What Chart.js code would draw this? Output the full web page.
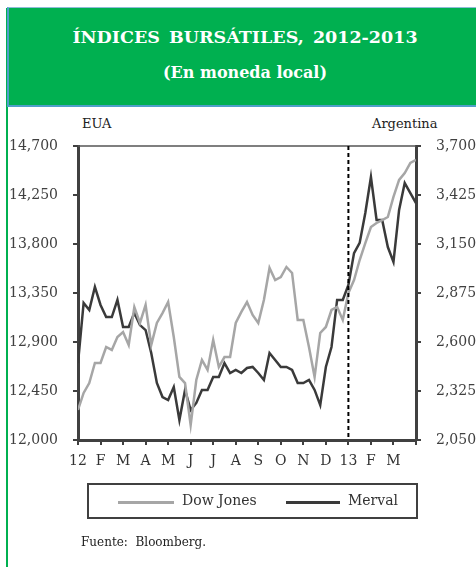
<!DOCTYPE html>
<html>
<head>
<meta charset="utf-8">
<script src="https://cdn.jsdelivr.net/npm/chart.js@4.4.0/dist/chart.umd.min.js"></script>
<style>
body { margin: 0; background: #fff; font-family: "DejaVu Serif", "Liberation Serif", "Times New Roman", serif; }
#wrap { position: relative; width: 476px; height: 567px; overflow: hidden; }
#side { position: absolute; left: 6px; top: 8px; width: 2px; height: 559px; background: #00B050; }
#header { position: absolute; left: 7px; top: 7px; width: 469px; height: 97px; background: #00B050;
  border-top: 1px solid #8FBCD8; border-left: 2px solid #4F9FC9; border-bottom: 2px solid #4F9FC9; }
.ttl { position: absolute; left: 0; width: 490px; text-align: center; color: #fff; font-weight: bold; }
#t1 { top: 24px; font-size: 17.5px; line-height: 26px; word-spacing: 3px; }
#t2 { top: 62px; font-size: 16px; line-height: 22px; }
.lab { position: absolute; color: #222; font-size: 13px; line-height: 16px; }
#chart { position: absolute; left: 0; top: 0; }
#legend { position: absolute; left: 87px; top: 483px; width: 327px; height: 32px; border: 2px solid #404040; }
.sw { position: absolute; height: 3px; }
.lt { position: absolute; top: 6px; font-size: 14px; line-height: 18px; color: #333; }
#src { position: absolute; left: 81px; top: 534px; font-size: 12px; line-height: 16px; color: #222; }
</style>
</head>
<body>
<div id="wrap">
  <div id="side"></div>
  <div id="header"></div>
  <div class="ttl" id="t1">ÍNDICES BURSÁTILES, 2012-2013</div>
  <div class="ttl" id="t2">(En moneda local)</div>
  <div class="lab" style="left:82px; top:116px;">EUA</div>
  <div class="lab" style="left:372px; top:116px;">Argentina</div>
  <canvas id="chart" width="476" height="567"></canvas>
  <div id="legend">
    <div class="sw" style="left:29px; top:16px; width:56px; background:#A6A6A6;"></div>
    <div class="lt" style="left:93px;">Dow Jones</div>
    <div class="sw" style="left:197px; top:16px; width:54px; background:#3A3A3A;"></div>
    <div class="lt" style="left:259px;">Merval</div>
  </div>
  <div id="src">Fuente:&nbsp; Bloomberg.</div>
</div>
<script>
// meses desde enero 2012 (aprox. semanal)
const months = Array.from({ length: 61 }, (_, i) => i / 4);
const monthLabels = ['12', 'F', 'M', 'A', 'M', 'J', 'J', 'A', 'S', 'O', 'N', 'D', '13', 'F', 'M', ''];

const dowJones = [
  12276, 12432, 12523, 12707, 12707, 12854, 12827, 12946, 12992, 12872,
  13221, 13075, 13240, 12872, 13075, 13166, 13267, 12946, 12579, 12523,
  12138, 12551, 12735, 12643, 12918, 12670, 12762, 12762, 13075, 13176,
  13267, 13148, 13075, 13286, 13580, 13469, 13497, 13589, 13534, 13102,
  13102, 12854, 12579, 12983, 13038, 13194, 13221, 13102, 13350, 13469,
  13653, 13809, 13956, 13993, 14020, 14048, 14232, 14388, 14452, 14544, 14572
];
const merval = [
  2482, 2819, 2780, 2909, 2808, 2740, 2740, 2836, 2684, 2684,
  2763, 2695, 2667, 2538, 2370, 2291, 2274, 2347, 2162, 2331,
  2218, 2258, 2331, 2331, 2404, 2404, 2482, 2426, 2443, 2426,
  2454, 2460, 2426, 2387, 2538, 2499, 2460, 2460, 2443, 2370,
  2370, 2387, 2331, 2246, 2460, 2572, 2836, 2836, 2920, 3099,
  3156, 3324, 3526, 3285, 3285, 3133, 3049, 3341, 3492, 3436, 3380
];

const axisColor = '#404040';
const serif = '"DejaVu Serif", "Liberation Serif", "Times New Roman", serif';

const extras = {
  id: 'extras',
  afterDatasetsDraw(chart) {
    const { ctx, chartArea: a, scales } = chart;
    ctx.save();
    // borde superior
    ctx.strokeStyle = '#555';
    ctx.lineWidth = 1.5;
    ctx.beginPath();
    ctx.moveTo(a.left, a.top);
    ctx.lineTo(a.right, a.top);
    ctx.stroke();
    // linea punteada inicio 2013
    const x = scales.x.getPixelForValue(12);
    ctx.strokeStyle = '#000';
    ctx.lineWidth = 2;
    ctx.setLineDash([4, 3]);
    ctx.beginPath();
    ctx.moveTo(x, a.top);
    ctx.lineTo(x, a.bottom);
    ctx.stroke();
    ctx.restore();
  }
};

new Chart(document.getElementById('chart'), {
  type: 'line',
  data: {
    datasets: [
      {
        label: 'Dow Jones',
        data: months.map((m, i) => ({ x: m, y: dowJones[i] })),
        borderColor: '#A6A6A6',
        borderWidth: 2.5,
        pointRadius: 0,
        yAxisID: 'y'
      },
      {
        label: 'Merval',
        data: months.map((m, i) => ({ x: m, y: merval[i] })),
        borderColor: '#3A3A3A',
        borderWidth: 2.5,
        pointRadius: 0,
        yAxisID: 'y1'
      }
    ]
  },
  options: {
    responsive: false,
    animation: false,
    layout: { padding: { top: 146, bottom: 87, left: 0, right: 0 } },
    plugins: { legend: { display: false }, tooltip: { enabled: false } },
    scales: {
      x: {
        type: 'linear',
        min: 0,
        max: 15,
        afterFit: s => { s.height = 40; },
        afterBuildTicks: s => { s.ticks = monthLabels.map((_, i) => ({ value: i })); },
        grid: { drawOnChartArea: false, tickLength: 5, color: axisColor, lineWidth: 2 },
        border: { color: axisColor, width: 3 },
        ticks: {
          autoSkip: false,
          maxRotation: 0,
          padding: 8,
          color: '#333',
          font: { family: serif, size: 14 },
          callback: v => monthLabels[v]
        }
      },
      y: {
        position: 'left',
        min: 12000,
        max: 14700,
        afterFit: s => { s.width = 78; },
        grid: { drawOnChartArea: false, tickLength: 5, color: axisColor, lineWidth: 2 },
        border: { color: axisColor, width: 3 },
        ticks: {
          stepSize: 450,
          padding: 15,
          color: '#404040',
          font: { family: serif, size: 14 },
          callback: v => v.toLocaleString('en-US')
        }
      },
      y1: {
        position: 'right',
        min: 2050,
        max: 3700,
        afterFit: s => { s.width = 60; },
        grid: { drawOnChartArea: false, tickLength: 5, color: axisColor, lineWidth: 2 },
        border: { color: axisColor, width: 3 },
        ticks: {
          stepSize: 275,
          padding: 15,
          color: '#404040',
          font: { family: serif, size: 14 },
          callback: v => v.toLocaleString('en-US')
        }
      }
    }
  },
  plugins: [extras]
});
</script>
</body>
</html>
